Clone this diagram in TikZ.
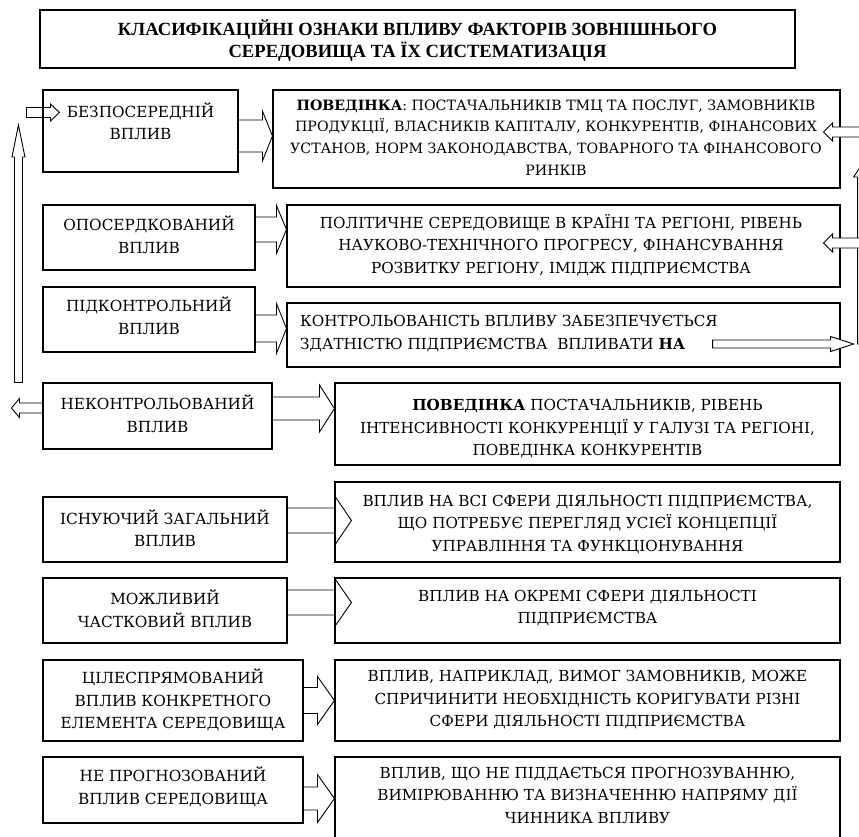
\documentclass[tikz,border=0pt]{standalone}
\usepackage{fontspec}
\setmainfont{DejaVu Serif}
\newfontfamily\titlefont{Liberation Serif}
\usetikzlibrary{calc,fit}
\tikzset{
 x=1pt, y=-1pt,
 box/.style={draw=black, line width=1.1pt, fill=white, inner sep=0pt, rectangle},
 ltxt/.style={align=center, font=\fontsize{15.3}{22.5}\selectfont, inner sep=0pt},
 rtxt/.style={align=center, font=\fontsize{15.2}{22.5}\selectfont, inner sep=0pt},
 r1txt/.style={align=center, font=\fontsize{14.2}{21.7}\selectfont, inner sep=0pt},
 ttxt/.style={align=center, font=\titlefont\bfseries\fontsize{18.6}{22}\selectfont, inner sep=0pt},
 blk/.style={draw=black, line width=0.9pt, line join=miter},
}
% horizontal block arrow, open base: start, tip, shaft half, head half, head length (signed)
\newcommand\hblk[6][]{%
 \draw[blk,#1] let \p1=#2, \p2=#3 in
 (\x1,{\y1+#4}) -- ({\x2-(#6)},{\y1+#4}) -- ({\x2-(#6)},{\y1+#5}) -- (\x2,\y1)
 -- ({\x2-(#6)},{\y1-#5}) -- ({\x2-(#6)},{\y1-#4}) -- (\x1,{\y1-#4});}
% horizontal block arrow, closed base
\newcommand\hblkc[6][]{%
 \draw[blk,#1] let \p1=#2, \p2=#3 in
 (\x1,{\y1+#4}) -- ({\x2-(#6)},{\y1+#4}) -- ({\x2-(#6)},{\y1+#5}) -- (\x2,\y1)
 -- ({\x2-(#6)},{\y1-#5}) -- ({\x2-(#6)},{\y1-#4}) -- (\x1,{\y1-#4}) -- cycle;}
% vertical block arrow, closed base
\newcommand\vblkc[6][]{%
 \draw[blk,#1] let \p1=#2, \p2=#3 in
 ({\x1+#4},\y1) -- ({\x1+#4},{\y2-(#6)}) -- ({\x1+#5},{\y2-(#6)}) -- (\x1,\y2)
 -- ({\x1-#5},{\y2-(#6)}) -- ({\x1-#4},{\y2-(#6)}) -- ({\x1-#4},\y1) -- cycle;}
\begin{document}
\begin{tikzpicture}
\useasboundingbox (0,0) rectangle (859,836);
\clip (0,0) rectangle (859,836);
\fill[white] (0,0) rectangle (859,836);

% title
\node[box, fit={(40,10) (795,68)}] (title) {};
\node[ttxt] (titlet) at (417.5,41) {КЛАСИФІКАЦІЙНІ ОЗНАКИ ВПЛИВУ ФАКТОРІВ ЗОВНІШНЬОГО\\СЕРЕДОВИЩА ТА ЇХ СИСТЕМАТИЗАЦІЯ};

% left boxes
\node[box, fit={(43,90) (238,172)}] (l1) {};
\node[box, fit={(43,205) (255,270)}] (l2) {};
\node[box, fit={(43,287) (255,352)}] (l3) {};
\node[box, fit={(43,383) (272,449)}] (l4) {};
\node[box, fit={(43,497) (287,562)}] (l5) {};
\node[box, fit={(43,578) (287,643)}] (l6) {};
\node[box, fit={(43,660) (303,741)}] (l7) {};
\node[box, fit={(43,757) (303,823)}] (l8) {};

\node[ltxt] (l1t) at (140.5,121.5) {БЕЗПОСЕРЕДНІЙ\\ВПЛИВ};
\node[ltxt] (l2t) at (149,235) {ОПОСЕРДКОВАНИЙ\\ВПЛИВ};
\node[ltxt] (l3t) at (149,316) {ПІДКОНТРОЛЬНИЙ\\ВПЛИВ};
\node[ltxt] (l4t) at (157.5,414) {НЕКОНТРОЛЬОВАНИЙ\\ВПЛИВ};
\node[ltxt] (l5t) at (165,528.5) {ІСНУЮЧИЙ ЗАГАЛЬНИЙ\\ВПЛИВ};
\node[ltxt] (l6t) at (165,609) {МОЖЛИВИЙ\\ЧАСТКОВИЙ ВПЛИВ};
\node[ltxt] (l7t) at (173,700) {ЦІЛЕСПРЯМОВАНИЙ\\ВПЛИВ КОНКРЕТНОГО\\ЕЛЕМЕНТА СЕРЕДОВИЩА};
\node[ltxt] (l8t) at (173,787) {НЕ ПРОГНОЗОВАНИЙ\\ВПЛИВ СЕРЕДОВИЩА};

% right boxes
\node[box, fit={(273,90) (840,188)}] (r1) {};
\node[box, fit={(287,205) (840,287)}] (r2) {};
\node[box, fit={(287,303) (840,367)}] (r3) {};
\node[box, fit={(335,383) (840,465)}] (r4) {};
\node[box, fit={(335,482) (840,562)}] (r5) {};
\node[box, fit={(335,578) (840,643)}] (r6) {};
\node[box, fit={(335,660) (840,741)}] (r7) {};
\node[box, fit={(335,757) (840,845)}] (r8) {};

\node[r1txt] (r1t) at (556,137.5) {\textbf{ПОВЕДІНКА}: ПОСТАЧАЛЬНИКІВ ТМЦ ТА ПОСЛУГ, ЗАМОВНИКІВ\\ПРОДУКЦІЇ, ВЛАСНИКІВ КАПІТАЛУ, КОНКУРЕНТІВ, ФІНАНСОВИХ\\УСТАНОВ, НОРМ ЗАКОНОДАВСТВА, ТОВАРНОГО ТА ФІНАНСОВОГО\\РИНКІВ};
\node[rtxt] (r2t) at (561,245) {ПОЛІТИЧНЕ СЕРЕДОВИЩЕ В КРАЇНІ ТА РЕГІОНІ, РІВЕНЬ\\НАУКОВО-ТЕХНІЧНОГО ПРОГРЕСУ, ФІНАНСУВАННЯ\\РОЗВИТКУ РЕГІОНУ, ІМІДЖ ПІДПРИЄМСТВА};
\node[rtxt, align=left, anchor=west] (r3t) at (300,333.5) {КОНТРОЛЬОВАНІСТЬ ВПЛИВУ ЗАБЕЗПЕЧУЄТЬСЯ\\ЗДАТНІСТЮ ПІДПРИЄМСТВА\ \ ВПЛИВАТИ \textbf{НА}};
\node[rtxt] (r4t) at (587.5,429) {\textbf{ПОВЕДІНКА} ПОСТАЧАЛЬНИКІВ, РІВЕНЬ\\ІНТЕНСИВНОСТІ КОНКУРЕНЦІЇ У ГАЛУЗІ ТА РЕГІОНІ,\\ПОВЕДІНКА КОНКУРЕНТІВ};
\node[rtxt] (r5t) at (587.5,524.5) {ВПЛИВ НА ВСІ СФЕРИ ДІЯЛЬНОСТІ ПІДПРИЄМСТВА,\\ЩО ПОТРЕБУЄ ПЕРЕГЛЯД УСІЄЇ КОНЦЕПЦІЇ\\УПРАВЛІННЯ ТА ФУНКЦІОНУВАННЯ};
\node[rtxt] (r6t) at (587.5,608) {ВПЛИВ НА ОКРЕМІ СФЕРИ ДІЯЛЬНОСТІ\\ПІДПРИЄМСТВА};
\node[rtxt] (r7t) at (587.5,700) {ВПЛИВ, НАПРИКЛАД, ВИМОГ ЗАМОВНИКІВ, МОЖЕ\\СПРИЧИНИТИ НЕОБХІДНІСТЬ КОРИГУВАТИ РІЗНІ\\СФЕРИ ДІЯЛЬНОСТІ ПІДПРИЄМСТВА};
\node[rtxt] (r8t) at (587.5,795) {ВПЛИВ, ЩО НЕ ПІДДАЄТЬСЯ ПРОГНОЗУВАННЮ,\\ВИМІРЮВАННЮ ТА ВИЗНАЧЕННЮ НАПРЯМУ ДІЇ\\ЧИННИКА ВПЛИВУ};

% arrows left -> right
\hblk{($(l1.east)+(0,5)$)}{(r1.west)}{16pt}{25pt}{10pt}
\hblk{($(l2.east)+(0,-8)$)}{(r2.west)}{12.5pt}{24pt}{10pt}
\hblk{($(l3.east)+(0,9)$)}{(r3.west)}{13.5pt}{25pt}{10pt}
\hblk{($(l4.east)+(0,-7.5)$)}{(r4.west)}{11.5pt}{23.5pt}{15pt}
\hblk{($(l5.east)+(0,-9)$)}{($(r5.west)+(17,0)$)}{12.5pt}{25pt}{17pt}
\hblk{($(l6.east)+(0,-8)$)}{($(r6.west)+(17,0)$)}{12.5pt}{24.5pt}{17pt}
\hblk{(l7.east)}{(r7.west)}{13pt}{24pt}{17pt}
\hblk{($(l8.east)+(0,8.5)$)}{(r8.west)}{11.5pt}{24pt}{17pt}

% left feedback loop
\hblk{($(l4.west)+(0,-8)$)}{($(l4.west)+(-31,0)$)}{5pt}{9.5pt}{-8pt}
\vblkc{($(l4.north west)+(-24,0)$)}{($(l1.west)+(-24,-6)$)}{4pt}{6.5pt}{32pt}
\hblkc{($(l1.north west)+(-16,23)$)}{($(l1.north west)+(17,23)$)}{5pt}{8.5pt}{9pt}

% right side
\vblkc[fill=white]{($(r3.east)+(26,9)$)}{($(r1.east)+(26,19)$)}{9pt}{13pt}{19pt}
\hblkc[fill=white]{($(r1.east)+(30,-7)$)}{($(r1.east)+(-17,0)$)}{5pt}{9pt}{-9pt}
\hblkc[fill=white]{($(r2.east)+(30,-3)$)}{($(r2.east)+(-17,0)$)}{5pt}{9pt}{-9pt}
\hblkc[fill=white]{($(r3.east)+(-128,9)$)}{($(r3.east)+(13,0)$)}{4pt}{7.5pt}{23pt}
\end{tikzpicture}
\end{document}
